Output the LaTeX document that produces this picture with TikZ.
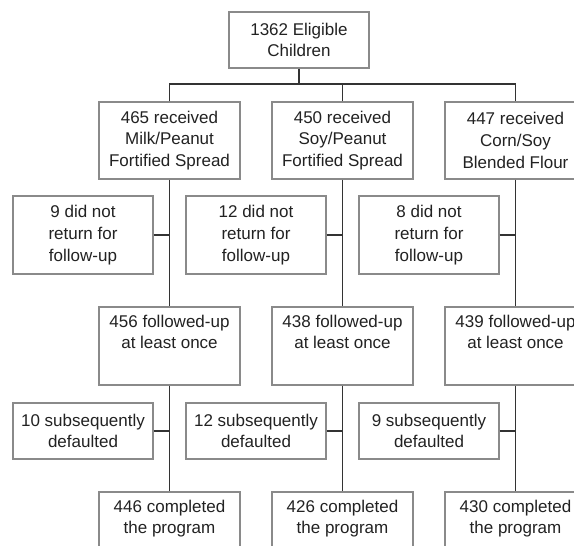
\documentclass[tikz,border=0pt]{standalone}
\usepackage{fontspec}
\setmainfont{Liberation Sans}
\definecolor{boxline}{HTML}{8A8A8A}
\definecolor{connline}{HTML}{333333}
\definecolor{txt}{HTML}{222222}
\begin{document}
\begin{tikzpicture}[x=1pt,y=1pt,
  box/.style={draw=boxline, line width=1.1pt, fill=white, align=center, text=txt,
    inner sep=0pt, minimum width=141pt, font=\fontsize{17pt}{21.7pt}\selectfont},
  mainbox/.style={box, minimum height=78pt},
  sidebox/.style={box, minimum width=140pt, minimum height=78pt},
  sidetwo/.style={box, minimum width=140pt, minimum height=56pt},
  conn/.style={draw=connline, line width=1.4pt}]
\useasboundingbox (0,0) rectangle (574,-546);
% top
\node[box, minimum width=140pt, minimum height=56pt] (top) at (299,-40) {1362 Eligible\\Children};
% row 2
\node[mainbox, minimum height=77pt] (b1) at (169.5,-140.5) {465 received\\Milk/Peanut\\Fortified Spread};
\node[mainbox, minimum height=77pt] (b2) at (342.5,-140.5) {450 received\\Soy/Peanut\\Fortified Spread};
\node[mainbox, minimum height=77pt] (b3) at (515.5,-140.5) {447 received\\Corn/Soy\\Blended Flour};
% side A
\node[sidebox] (s1) at (83,-235) {9 did not\\return for\\follow-up};
\node[sidebox] (s2) at (256,-235) {12 did not\\return for\\follow-up};
\node[sidebox] (s3) at (429,-235) {8 did not\\return for\\follow-up};
% row 3
\node[mainbox] (f1) at (169.5,-346) {456 followed-up\\at least once\\\strut};
\node[mainbox] (f2) at (342.5,-346) {438 followed-up\\at least once\\\strut};
\node[mainbox] (f3) at (515.5,-346) {439 followed-up\\at least once\\\strut};
% side B
\node[sidetwo] (d1) at (83,-431) {10 subsequently\\defaulted};
\node[sidetwo] (d2) at (256,-431) {12 subsequently\\defaulted};
\node[sidetwo] (d3) at (429,-431) {9 subsequently\\defaulted};
% row 4
\node[mainbox] (c1) at (169.5,-531) {446 completed\\the program\\\strut};
\node[mainbox] (c2) at (342.5,-531) {426 completed\\the program\\\strut};
\node[mainbox] (c3) at (515.5,-531) {430 completed\\the program\\\strut};
% connectors
\coordinate (bar) at (299,-84);
\draw[conn] (top.south) -- (bar);
\draw[conn] (b1.north) -- (b1.north |- bar) -- (b3.north |- bar) -- (b3.north);
\draw[conn] (b2.north) -- (b2.north |- bar);
\foreach \i in {1,2,3}{
  \draw[conn] (b\i.south) -- (f\i.north);
  \draw[conn] (f\i.south) -- (c\i.north);
  \draw[conn] (s\i.east) -- (s\i.east -| b\i.south);
  \draw[conn] (d\i.east) -- (d\i.east -| f\i.south);
}
\end{tikzpicture}
\end{document}
